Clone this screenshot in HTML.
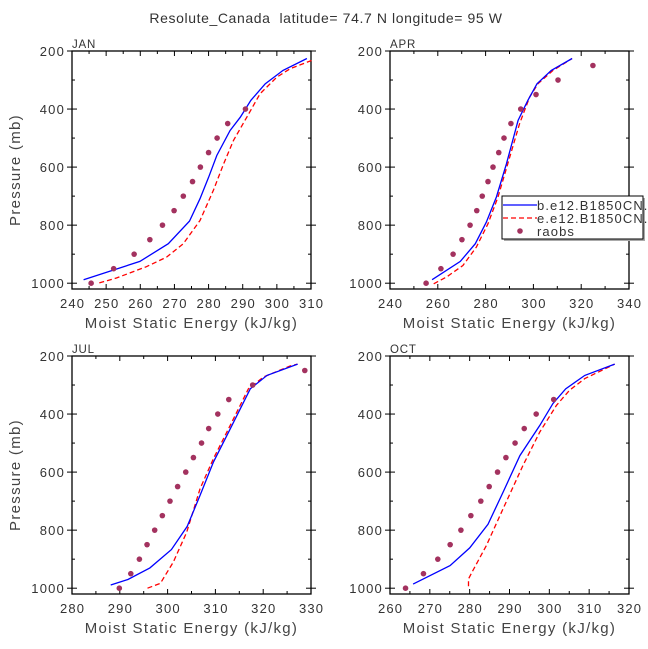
<!DOCTYPE html>
<html><head><meta charset="utf-8">
<style>
body{margin:0;background:#fff;}
svg{display:block;font-family:"Liberation Sans",sans-serif;}
</style></head>
<body>
<svg id="chart" width="648" height="649" xmlns="http://www.w3.org/2000/svg">
<text x="326" y="23" font-size="14" text-anchor="middle" fill="#333" letter-spacing="0.6" style="white-space:pre" xml:space="preserve">Resolute_Canada  latitude= 74.7 N longitude= 95 W</text>
</svg>
<script>
// Raob pressure levels and values
const raobLevels = [1000,950,900,850,800,750,700,650,600,550,500,450,400,350,300,250];
const janRaobs = [245.6,252.2,258.2,262.8,266.5,269.9,272.6,275.3,277.6,280,282.5,285.6,290.8];
const aprRaobs = [255.1,261.3,266.4,270.1,273.5,276.3,278.6,281,283.1,285.5,287.7,290.6,294.7,301.1,310.3,324.9];
const julRaobs = [289.9,292.3,294.1,295.7,297.3,298.9,300.5,302.1,303.8,305.4,307.1,308.6,310.5,312.8,317.8,328.7];
const octRaobs = [263.9,268.4,272,275.1,277.8,280.3,282.8,284.9,287,289.1,291.4,293.7,296.7,301.1];
// Model series (pressure, value)
const janBlueP = [988,925,864,786,709,635,560,474,428,370,313,267,226];
const janBlueV = [243.4,259.9,268.2,274.4,277.5,280,282.4,286.3,289.3,292.4,296.6,301.8,308.8];
const janRedP = [999,982,943,910,864,784,680,589,508,428,347,290,261,232];
const janRedV = [248,253,261.8,267.7,272.6,277.5,281.4,284.4,287.3,291.2,295.1,300,303.9,310.3];
const aprBlueP = [988,925,864,790,703,589,439,370,313,267,226];
const aprBlueV = [257.6,269.4,275.7,280.3,284.5,288.7,293.6,297.7,301.5,307.5,316.2];
const aprRedP = [1002,979,939,876,795,703,566,451,359,313,267,226];
const aprRedV = [258.3,263.6,270.5,276.1,281,285.2,290.1,294.2,298.4,301.9,308.2,316.2];
const julBlueP = [989,970,930,867,787,680,565,451,313,267,228];
const julBlueV = [288.1,291.7,296.3,300.8,304.1,306.8,309.6,313.1,317.3,320.8,327.2];
const julRedP = [1000,983,910,807,657,553,439,313,272,234,228];
const julRedV = [295.8,298.5,301.2,304,306.8,309.6,313.1,316.9,320.1,325.7,327.2];
const octBlueP = [986,922,861,780,669,543,439,364,313,267,228];
const octBlueV = [265.8,275.1,280,284.6,288.4,292.6,297.6,300.9,304.1,308.9,316.4];
const octRedP = [993,968,939,853,726,577,462,370,318,278,228];
const octRedV = [279.7,279.7,280.8,284.2,288.4,293.4,297.6,301.8,305.1,308.9,316.4];
const janTicks = [240,250,260,270,280,290,300,310];
const aprTicks = [240,260,280,300,320,340];
const julTicks = [280,290,300,310,320,330];
const octTicks = [260,270,280,290,300,310,320];
const yTicks = [200,400,600,800,1000];

const NS="http://www.w3.org/2000/svg";
const svg=document.getElementById('chart');
function mk(tag,attrs,parent){const e=document.createElementNS(NS,tag);for(const k in attrs)e.setAttribute(k,attrs[k]);(parent||svg).appendChild(e);return e;}

const panels=[
 {id:'jan',label:'JAN',x0:72,y0:51,xmin:240,xmax:310,ticks:janTicks,minor:5,raobs:janRaobs,bp:janBlueP,bv:janBlueV,rp:janRedP,rv:janRedV,ytitle:true},
 {id:'apr',label:'APR',x0:390,y0:51,xmin:240,xmax:340,ticks:aprTicks,minor:10,raobs:aprRaobs,bp:aprBlueP,bv:aprBlueV,rp:aprRedP,rv:aprRedV,ytitle:false,legend:true},
 {id:'jul',label:'JUL',x0:72,y0:356,xmin:280,xmax:330,ticks:julTicks,minor:5,raobs:julRaobs,bp:julBlueP,bv:julBlueV,rp:julRedP,rv:julRedV,ytitle:true},
 {id:'oct',label:'OCT',x0:390,y0:356,xmin:260,xmax:320,ticks:octTicks,minor:5,raobs:octRaobs,bp:octBlueP,bv:octBlueV,rp:octRedP,rv:octRedV,ytitle:false}
];
const W=239,H=238,PMIN=200,PMAX=1020;
panels.forEach(p=>{
 const g=mk('g',{});
 
 
 const sx=v=>p.x0+(v-p.xmin)/(p.xmax-p.xmin)*W;
 const sy=v=>p.y0+(v-PMIN)/(PMAX-PMIN)*H;
 const yb=p.y0+H;
 for(let pr=200;pr<=1000;pr+=100){
  const y=sy(pr);const major=pr%200===0;const L=major?5:3;
  mk('line',{x1:p.x0-(major?5:0),x2:p.x0+L,y1:y,y2:y,stroke:'#000','stroke-width':1},g);
  mk('line',{x1:p.x0+W-L,x2:p.x0+W+(major?5:0),y1:y,y2:y,stroke:'#000','stroke-width':1},g);
 }
 for(let v=p.xmin;v<=p.xmax+1e-9;v+=p.minor){
  const x=sx(v);const major=p.ticks.includes(Math.round(v));const L=major?5:3;
  mk('line',{x1:x,x2:x,y1:yb-L,y2:yb,stroke:'#000','stroke-width':1},g);
  mk('line',{x1:x,x2:x,y1:p.y0,y2:p.y0+L,stroke:'#000','stroke-width':1},g);
 }
 yTicks.forEach(t=>{
  const e=mk('text',{x:p.x0-7,y:sy(t)+5,'font-size':13,'text-anchor':'end',fill:'#333','letter-spacing':1.2},g);
  
  
  e.textContent=t;
 });
 p.ticks.forEach(t=>{
  const e=mk('text',{x:sx(t)+0.6,y:yb+19,'font-size':13,'text-anchor':'middle',fill:'#333','letter-spacing':1.2},g);
  
  
  e.textContent=t;
 });
 const fr=mk('rect',{x:p.x0,y:p.y0,width:W,height:H,fill:'none',stroke:'#000','stroke-width':1.3},g);
 
 
 const lb=mk('text',{x:p.x0,y:p.y0-3,'font-size':11.5,fill:'#333','letter-spacing':0.8},g);
 
 
 lb.textContent=p.label;
 const xt=mk('text',{x:p.x0+W/2,y:yb+39,'font-size':15,'text-anchor':'middle',fill:'#444','letter-spacing':1.3},g);
 
 
 xt.textContent='Moist Static Energy (kJ/kg)';
 if(p.ytitle){
  const yt=mk('text',{x:0,y:0,'font-size':15,'text-anchor':'middle',fill:'#444','letter-spacing':1.3,transform:`translate(20,${p.y0+H/2}) rotate(-90)`},g);
  
  
  yt.textContent='Pressure (mb)';
 }
 const pts=(P,V)=>P.map((pr,i)=>sx(V[i]).toFixed(1)+','+sy(pr).toFixed(1)).join(' ');
 const rl=mk('polyline',{points:pts(p.rp,p.rv),fill:'none',stroke:'#ff0000','stroke-width':1.3,'stroke-dasharray':'5,3'},g);
 
 
 const bl=mk('polyline',{points:pts(p.bp,p.bv),fill:'none',stroke:'#0000ff','stroke-width':1.3},g);
 
 
 p.raobs.forEach((v,i)=>{
  const c=mk('circle',{cx:sx(v),cy:sy(raobLevels[i]),r:2.8,fill:'#a3325f'},g);
  
  
 });
 if(p.legend){
  const lg=mk('g',{});
  
  
  mk('rect',{x:504,y:198,width:141,height:43,fill:'#aaa'},lg);
  mk('rect',{x:502,y:196,width:141,height:43,fill:'#fff',stroke:'#000','stroke-width':1},lg);
  const rows=[['b.e12.B1850CN.f','b'],['e.e12.B1850CN.f','e'],['raobs','r']];
  rows.forEach((r,i)=>{
   const y=205+i*13;
   if(r[1]==='b')mk('line',{x1:503,x2:537,y1:y,y2:y,stroke:'#0000ff','stroke-width':1.3},lg);
   if(r[1]==='e')mk('line',{x1:503,x2:537,y1:y,y2:y,stroke:'#ff0000','stroke-width':1.3,'stroke-dasharray':'5,3'},lg);
   if(r[1]==='r')mk('circle',{cx:520,cy:y,r:2.8,fill:'#a3325f'},lg);
   const t=mk('text',{x:537,y:y+5,'font-size':13,fill:'#333','letter-spacing':1.1},lg);
   
   
   t.textContent=r[0];
  });
 }
});
</script>
</body></html>
